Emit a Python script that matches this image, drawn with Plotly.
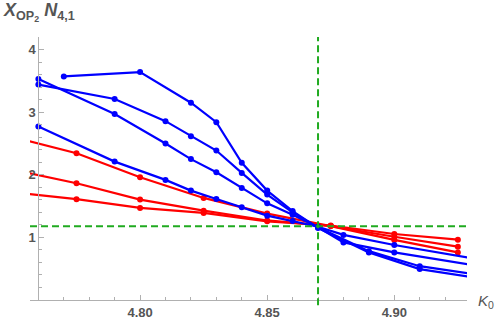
import plotly.graph_objects as go

# blue curves (K0, value)
k_blue1 = [4.77, 4.80, 4.82, 4.83, 4.84, 4.85, 4.86, 4.87, 4.89, 4.91, 4.94]
y_blue1 = [3.57, 3.64, 3.15, 2.84, 2.19, 1.747, 1.42, 1.15, 0.76, 0.494, 0.305]

k_blue2 = [4.76, 4.79, 4.81, 4.82, 4.83, 4.84, 4.85, 4.86, 4.87, 4.88, 4.90, 4.94]
y_blue2 = [3.53, 2.97, 2.50, 2.25, 2.04, 1.79, 1.544, 1.36, 1.16, 0.92, 0.76, 0.50]

k_blue3 = [4.76, 4.79, 4.81, 4.82, 4.83, 4.84, 4.85, 4.86, 4.87, 4.89, 4.91, 4.94]
y_blue3 = [3.44, 3.21, 2.856, 2.616, 2.387, 2.03, 1.683, 1.40, 1.16, 0.78, 0.54, 0.36]

k_blue4 = [4.76, 4.79, 4.81, 4.82, 4.83, 4.84, 4.85, 4.86, 4.87, 4.88, 4.90, 4.94]
y_blue4 = [2.77, 2.21, 1.918, 1.747, 1.614, 1.48, 1.347, 1.26, 1.17, 1.04, 0.878, 0.60]

# red curves
k_red = [4.75, 4.775, 4.80, 4.825, 4.85, 4.875, 4.90, 4.925]
y_red1 = [2.60, 2.344, 1.96, 1.63, 1.38, 1.18, 0.96, 0.76]
y_red2 = [2.08, 1.864, 1.603, 1.427, 1.27, 1.18, 1.01, 0.851]
y_red3 = [1.72, 1.61, 1.47, 1.39, 1.256, 1.19, 1.054, 0.963]

k_cross = 4.87
y_cross = 1.176

x_range = [4.7567, 4.9286]
y_range = [0, 4.2]
x_ticks = [4.80, 4.85, 4.90]
y_ticks = [1, 2, 3, 4]

RED = "#ff0000"
BLUE = "#0000ff"
GREEN = "rgb(32,170,32)"
AXIS = "#b0b0b0"
LABEL = "#555555"

fig = go.Figure()

for yv in [y_red1, y_red2, y_red3]:
    fig.add_trace(go.Scatter(
        x=k_red, y=yv, mode="lines+markers",
        line=dict(color=RED, width=2.2),
        marker=dict(color=RED, size=6),
        showlegend=False,
    ))

for kv, yv in [(k_blue1, y_blue1), (k_blue2, y_blue2),
               (k_blue3, y_blue3), (k_blue4, y_blue4)]:
    fig.add_trace(go.Scatter(
        x=kv, y=yv, mode="lines+markers",
        line=dict(color=BLUE, width=2.2),
        marker=dict(color=BLUE, size=6),
        showlegend=False,
    ))

# green crossing guides
fig.add_shape(type="line", xref="paper", yref="y",
              x0=0, x1=1, y0=y_cross, y1=y_cross,
              line=dict(color=GREEN, width=2, dash="7px,4px"), layer="above")
fig.add_shape(type="line", xref="x", yref="paper",
              x0=k_cross, x1=k_cross, y0=-0.02, y1=1,
              line=dict(color=GREEN, width=2, dash="7px,4px"), layer="above")

tick_font = dict(family="Arial", size=13, color=LABEL, weight="bold")

fig.update_layout(
    width=500, height=324,
    margin=dict(l=30, r=33, t=37, b=24, autoexpand=False),
    plot_bgcolor="white",
    paper_bgcolor="white",
    xaxis=dict(
        range=x_range, showgrid=False, zeroline=False, automargin=False,
        showline=True, linecolor=AXIS, linewidth=1,
        tickmode="array", tickvals=x_ticks,
        ticktext=[f"{v:.2f}" for v in x_ticks],
        ticks="inside", ticklen=5, tickcolor=AXIS,
        tickfont=tick_font,
        minor=dict(dtick=0.01, tick0=4.76, ticks="inside", ticklen=3, tickcolor=AXIS),
    ),
    yaxis=dict(
        range=y_range, showgrid=False, zeroline=False, automargin=False,
        anchor="free", position=(4.76 - x_range[0]) / (x_range[1] - x_range[0]),
        showline=True, linecolor=AXIS, linewidth=1,
        tickmode="array", tickvals=y_ticks,
        ticks="inside", ticklen=5, tickcolor=AXIS,
        tickfont=tick_font,
        minor=dict(dtick=0.2, tick0=0, ticks="inside", ticklen=3, tickcolor=AXIS),
    ),
)

fig.add_annotation(
    xref="paper", yref="paper", x=-0.066, y=1.04,
    xanchor="left", yanchor="bottom", showarrow=False,
    text="<b><i>X</i><sub>OP<sub>2</sub></sub> <i>N</i><sub>4,1</sub></b>",
    font=dict(family="Arial", size=18, color=LABEL, weight="bold"),
)
fig.add_annotation(
    xref="paper", yref="paper", x=1.02, y=-0.005,
    xanchor="left", yanchor="middle", showarrow=False,
    text="<i>K</i><sub>0</sub>",
    font=dict(family="Arial", size=15, color=LABEL),
)

# the page's default body margin would shift the fixed-size figure
fig.write_html(
    "out.html",
    config={"displayModeBar": False},
    post_script="document.body.style.margin='0';document.body.style.overflow='hidden';",
)
